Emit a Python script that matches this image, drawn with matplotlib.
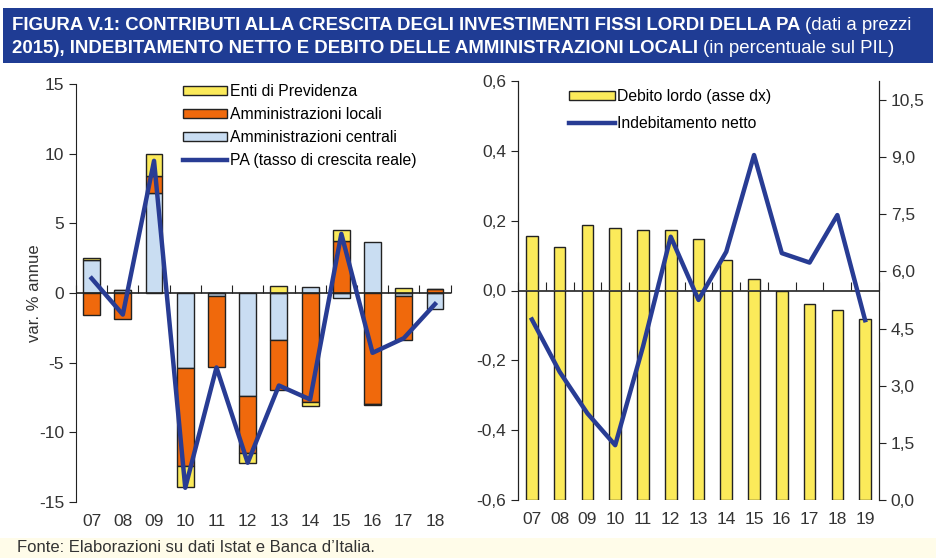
import numpy as np
import matplotlib.pyplot as plt
from matplotlib.patches import Rectangle

plt.rcParams['font.family'] = ['Liberation Sans', 'DejaVu Sans']
plt.rcParams['axes.unicode_minus'] = False

# left panel: contributi alla crescita
anni_sx = ['07', '08', '09', '10', '11', '12', '13', '14', '15', '16', '17', '18']
centrali = [2.4, 0.2, 7.2, -5.4, -0.25, -7.4, -3.35, 0.45, -0.35, 3.7, -0.2, -1.15]
locali = [-1.55, -1.85, 1.2, -7.05, -5.1, -4.1, -3.65, -7.8, 3.75, -8.0, -3.2, 0.3]
previdenza = [0.1, 0.0, 1.6, -1.5, 0.0, -0.75, 0.5, -0.3, 0.75, -0.05, 0.35, 0.0]
pa = [1.05, -1.55, 9.5, -14.0, -5.35, -12.2, -6.65, -7.65, 4.25, -4.3, -3.25, -0.8]

# right panel: debito e indebitamento
anni_dx = ['07', '08', '09', '10', '11', '12', '13', '14', '15', '16', '17', '18', '19']
debito = [6.93, 6.64, 7.22, 7.14, 7.09, 7.09, 6.84, 6.29, 5.79, 5.49, 5.15, 5.0, 4.74]
indebitamento = [-0.083, -0.233, -0.352, -0.443, -0.161, 0.154, -0.027, 0.111, 0.388, 0.107, 0.08, 0.216, -0.085]

GIALLO = '#FBEA5A'
ARANCIO = '#F0690C'
CELESTE = '#C9DDF2'
BLU = '#283C94'

fig = plt.figure(figsize=(9.36, 5.58), dpi=100)

# title box and footer band
fig.patches.append(Rectangle((3/936, 1-63/558), 930/936, 55/558, transform=fig.transFigure,
                             facecolor='#1F3C94', edgecolor='none', zorder=0))
fig.patches.append(Rectangle((0, 0), 1, 20/558, transform=fig.transFigure,
                             facecolor='#FFFCE9', edgecolor='none', zorder=0))

# ---- left chart
ax1 = fig.add_axes([76/936, 1-501.7/558, 374.6/936, 417.4/558])
x1 = np.arange(len(anni_sx))
pos = np.zeros(len(anni_sx))
neg = np.zeros(len(anni_sx))
for serie, col, lab in [(centrali, CELESTE, 'Amministrazioni centrali'),
                        (locali, ARANCIO, 'Amministrazioni locali'),
                        (previdenza, GIALLO, 'Enti di Previdenza')]:
    v = np.array(serie)
    bottom = np.where(v >= 0, pos, neg)
    ax1.bar(x1, v, 0.54, bottom=bottom, color=col, edgecolor='#222222', linewidth=1, label=lab, zorder=2)
    pos = pos + np.where(v > 0, v, 0)
    neg = neg + np.where(v < 0, v, 0)
ax1.plot(x1, pa, color=BLU, linewidth=3.2, label='PA (tasso di crescita reale)', zorder=4)

ax1.set_xlim(-0.5, len(anni_sx) - 0.5)
ax1.set_ylim(-15, 15)
ax1.set_yticks([-15, -10, -5, 0, 5, 10, 15])
ax1.set_xticks(x1)
ax1.set_xticklabels(anni_sx)
ax1.tick_params(axis='x', length=0, pad=9, labelsize=12.5, colors='#333333')
ax1.tick_params(axis='y', direction='out', length=5, labelsize=12.5, colors='#333333')
ax1.tick_params(axis='y', color='#222222')
for s in ['top', 'right', 'bottom']:
    ax1.spines[s].set_visible(False)
ax1.spines['left'].set_color('#222222')
ax1.axhline(0, color='#222222', linewidth=1.2, zorder=3)
sec1 = ax1.secondary_xaxis(0.5)
sec1.set_xticks(np.arange(len(anni_sx) + 1) - 0.5)
sec1.set_xticklabels([])
sec1.tick_params(direction='out', length=6, color='#222222')
sec1.spines['bottom'].set_visible(False)
sec1.spines['top'].set_visible(False)
ax1.set_ylabel('var. % annue', fontsize=12, color='#333333', labelpad=-2)

h, l = ax1.get_legend_handles_labels()
order = [3, 2, 1, 0]
ax1.legend([h[i] for i in order], [l[i] for i in order], loc='upper left',
           bbox_to_anchor=(0.27, 1.015), frameon=False, fontsize=11.3,
           handlelength=2.8, handleheight=0.5, handletextpad=0.15, labelspacing=0.5,
           borderaxespad=0)

# ---- right chart
ax2 = fig.add_axes([518/936, 1-500/558, 361/936, 419/558])
ax3 = ax2.twinx()
x2 = np.arange(len(anni_dx))
b = ax3.bar(x2, debito, 0.42, color=GIALLO, edgecolor='#222222', linewidth=1,
            label='Debito lordo (asse dx)')
ax3.set_ylim(0, 11)
ax3.set_yticks([0, 1.5, 3, 4.5, 6, 7.5, 9, 10.5])
ax3.set_yticklabels(['0,0', '1,5', '3,0', '4,5', '6,0', '7,5', '9,0', '10,5'])
ax3.tick_params(axis='y', direction='out', length=5, labelsize=12.5, colors='#333333')
ax3.tick_params(axis='y', color='#222222')

ax2.set_zorder(ax3.get_zorder() + 1)
ax2.patch.set_visible(False)
ln, = ax2.plot(x2, indebitamento, color=BLU, linewidth=3.2, label='Indebitamento netto', zorder=4)
ax2.axhline(0, color='#222222', linewidth=1.2, zorder=3)
ax2.set_xlim(-0.5, len(anni_dx) - 0.5)
ax2.set_ylim(-0.6, 0.6)
ax2.set_yticks([-0.6, -0.4, -0.2, 0, 0.2, 0.4, 0.6])
ax2.set_yticklabels(['-0,6', '-0,4', '-0,2', '0,0', '0,2', '0,4', '0,6'])
ax2.set_xticks(x2)
ax2.set_xticklabels(anni_dx)
ax2.tick_params(axis='x', length=0, pad=9, labelsize=12.5, colors='#333333')
ax2.tick_params(axis='y', direction='out', length=5, labelsize=12.5, colors='#333333')
ax2.tick_params(axis='y', color='#222222')
for a in (ax2, ax3):
    a.spines['top'].set_visible(False)
    a.spines['bottom'].set_visible(False)
    a.spines['left'].set_color('#222222')
    a.spines['right'].set_color('#222222')
sec2 = ax2.secondary_xaxis(0.5)
sec2.set_xticks(np.arange(len(anni_dx) + 1) - 0.5)
sec2.set_xticklabels([])
sec2.tick_params(direction='out', length=6, color='#222222')
sec2.spines['bottom'].set_visible(False)
sec2.spines['top'].set_visible(False)

ax2.legend([b, ln], ['Debito lordo (asse dx)', 'Indebitamento netto'], loc='upper left',
           bbox_to_anchor=(0.125, 0.995), frameon=False, fontsize=11.3,
           handlelength=2.9, handleheight=0.5, handletextpad=0.15, labelspacing=0.72,
           borderaxespad=0)

# ---- title with mixed weights
renderer = fig.canvas.get_renderer()


def riga(y, parti, size):
    x = 12 / 936
    for testo, peso in parti:
        t = fig.text(x, y, testo, color='white', fontsize=size, fontweight=peso,
                     va='baseline', ha='left')
        bb = t.get_window_extent(renderer)
        x = bb.x1 / fig.bbox.width


riga(1 - 30/558, [('FIGURA V.1: CONTRIBUTI ALLA CRESCITA DEGLI INVESTIMENTI FISSI LORDI DELLA PA ', 'bold'),
                  ('(dati a prezzi', 'normal')], 13.4)
riga(1 - 53/558, [('2015), INDEBITAMENTO NETTO E DEBITO DELLE AMMINISTRAZIONI LOCALI ', 'bold'),
                  ('(in percentuale sul PIL)', 'normal')], 13.4)

fig.text(17/936, 1 - 548/558, "Fonte: Elaborazioni su dati Istat e Banca d\u2019Italia.",
         fontsize=12, color='#333333', va='center', ha='left')

fig.savefig('out.png', dpi=100)
